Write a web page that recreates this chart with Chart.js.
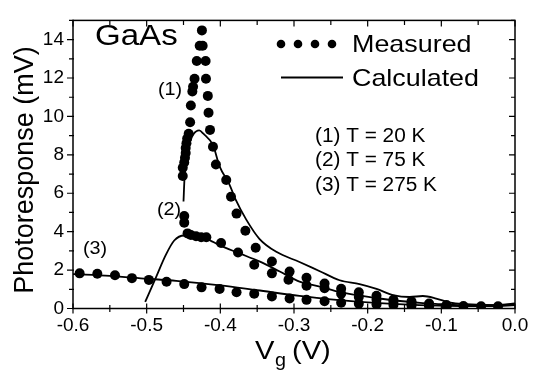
<!DOCTYPE html>
<html>
<head>
<meta charset="utf-8">
<script src="https://cdn.jsdelivr.net/npm/chart.js@4"></script>
<style>
  html, body { margin: 0; padding: 0; background: #fff; }
  #wrap { width: 538px; height: 370px; }
</style>
</head>
<body>
<div id="wrap"><canvas id="c" width="538" height="370"></canvas></div>
<script>
// measured points, [Vg (V), photoresponse (mV)]
const measured20K = [
  [-0.451, 6.9], [-0.451, 7.33], [-0.449, 7.6], [-0.448, 7.85], [-0.447, 8.1], [-0.447, 8.35],
  [-0.446, 8.6], [-0.445, 8.85], [-0.443, 9.1], [-0.441, 9.7], [-0.440, 10.57], [-0.438, 11.3],
  [-0.437, 11.55], [-0.435, 11.96], [-0.432, 12.89], [-0.428, 13.68], [-0.425, 14.48],
  [-0.424, 13.68], [-0.420, 12.89], [-0.4195, 11.96], [-0.417, 11.07], [-0.416, 10.19],
  [-0.414, 9.3], [-0.410, 8.42], [-0.406, 7.5], [-0.392, 6.69], [-0.3855, 5.82], [-0.378, 4.94],
  [-0.366, 4.05], [-0.352, 3.16], [-0.330, 2.45], [-0.306, 1.92], [-0.283, 1.6], [-0.2585, 1.3],
  [-0.236, 1.03], [-0.212, 0.84], [-0.188, 0.66], [-0.165, 0.46], [-0.1405, 0.38], [-0.1166, 0.26],
  [-0.093, 0.18], [-0.070, 0.13], [-0.046, 0.12], [-0.023, 0.12]
];
const measured75K = [
  [-0.449, 4.47], [-0.449, 4.81], [-0.4445, 3.91], [-0.440, 3.83], [-0.433, 3.76], [-0.426, 3.71],
  [-0.419, 3.71], [-0.399, 3.41], [-0.376, 2.92], [-0.354, 2.28], [-0.330, 1.83], [-0.3075, 1.5],
  [-0.283, 1.19], [-0.2585, 1.05], [-0.236, 0.77], [-0.212, 0.6], [-0.188, 0.46], [-0.165, 0.34],
  [-0.1405, 0.26], [-0.1166, 0.18], [-0.093, 0.13]
];
const measured275K = [
  [-0.591, 1.83], [-0.567, 1.81], [-0.543, 1.73], [-0.520, 1.58], [-0.497, 1.49], [-0.473, 1.39],
  [-0.449, 1.27], [-0.4255, 1.1], [-0.401, 1.02], [-0.378, 0.85], [-0.354, 0.77], [-0.330, 0.63],
  [-0.306, 0.52], [-0.283, 0.45], [-0.2585, 0.38], [-0.236, 0.3], [-0.212, 0.25], [-0.188, 0.21],
  [-0.165, 0.18], [-0.1405, 0.14], [-0.1166, 0.12], [-0.093, 0.1]
];

// calculated curves
const calc20K = [
  [-0.450, 5.57], [-0.4486, 6.8], [-0.446, 7.8], [-0.442, 8.6], [-0.437, 9.05], [-0.4286, 9.27],
  [-0.423, 9.1], [-0.410, 8.5], [-0.401, 7.4], [-0.388, 6.49], [-0.379, 5.65], [-0.365, 4.64],
  [-0.347, 3.63], [-0.324, 2.95], [-0.2925, 2.42], [-0.265, 1.94], [-0.238, 1.47], [-0.211, 1.27],
  [-0.188, 1.02], [-0.1655, 0.7], [-0.143, 0.6], [-0.125, 0.65], [-0.107, 0.52], [-0.088, 0.3],
  [-0.066, 0.23], [-0.025, 0.18], [0, 0.26]
];
const calc75K = [
  [-0.502, 0.34], [-0.4875, 1.61], [-0.474, 2.79], [-0.4626, 3.54], [-0.449, 3.8], [-0.4377, 3.71],
  [-0.419, 3.63], [-0.401, 3.29], [-0.374, 2.87], [-0.347, 2.45], [-0.320, 1.94], [-0.2925, 1.4],
  [-0.265, 1.14], [-0.238, 0.85], [-0.211, 0.68], [-0.184, 0.52], [-0.156, 0.39], [-0.129, 0.29],
  [-0.102, 0.23], [-0.075, 0.18], [-0.040, 0.17], [0, 0.23]
];
const calc275K = [
  [-0.6, 1.79], [-0.55, 1.7], [-0.5, 1.55], [-0.46, 1.44], [-0.4, 1.2], [-0.35, 0.95],
  [-0.2925, 0.66], [-0.25, 0.48], [-0.184, 0.28], [-0.13, 0.18], [-0.075, 0.13], [-0.03, 0.12], [0, 0.18]
];

const curveLabels = ['(1) T = 20 K', '(2) T = 75 K', '(3) T = 275 K'];
const xTickLabels = ['-0.6', '-0.5', '-0.4', '-0.3', '-0.2', '-0.1', '0.0'];
const yTickLabels = ['0', '2', '4', '6', '8', '10', '12', '14'];

const FONT = '"Liberation Sans", Arial, sans-serif';
const toPts = arr => arr.map(p => ({ x: p[0], y: p[1] }));

const dots = (d) => ({
  data: toPts(d), showLine: false, pointRadius: 5, pointHoverRadius: 5,
  pointBackgroundColor: '#000', pointBorderColor: '#000', pointBorderWidth: 0
});
const line = (d) => ({
  data: toPts(d), showLine: true, pointRadius: 0, borderColor: '#000',
  borderWidth: 1.8, cubicInterpolationMode: 'monotone', fill: false
});

function text(ctx, s, x, y, size, sx, align) {
  ctx.save();
  ctx.font = size + 'px ' + FONT;
  ctx.textBaseline = 'alphabetic';
  ctx.textAlign = align || 'left';
  ctx.translate(x, y);
  ctx.scale(sx, 1);
  ctx.fillText(s, 0, 0);
  ctx.restore();
}

const frameAndText = {
  id: 'frameAndText',
  afterDraw(chart) {
    const ctx = chart.ctx;
    const a = chart.chartArea;
    const xs = chart.scales.x, ys = chart.scales.y;
    ctx.save();
    ctx.strokeStyle = '#000';
    ctx.fillStyle = '#000';
    ctx.lineWidth = 1.5;
    ctx.strokeRect(a.left, a.top, a.right - a.left, a.bottom - a.top);

    ctx.lineWidth = 1.2;
    ctx.beginPath();
    for (let i = 0; i <= 12; i++) {
      const v = -0.6 + i * 0.05;
      const px = xs.getPixelForValue(v);
      const len = i % 2 === 0 ? 5 : 3.5;
      ctx.moveTo(px, a.bottom - len); ctx.lineTo(px, a.bottom + len);
      ctx.moveTo(px, a.top); ctx.lineTo(px, a.top + len + 1);
    }
    for (let v = 0; v <= 15; v++) {
      const py = ys.getPixelForValue(v);
      const len = v % 2 === 0 ? 6 : 4;
      ctx.moveTo(a.left - len, py); ctx.lineTo(a.left + 1, py);
      ctx.moveTo(a.right, py); ctx.lineTo(a.right - len, py);
    }
    ctx.stroke();

    // annotations
    text(ctx, 'GaAs', 95, 45, 29, 1.14);
    [281, 298, 315, 332].forEach(x => {
      ctx.beginPath(); ctx.arc(x, 44, 4.3, 0, Math.PI * 2); ctx.fill();
    });
    text(ctx, 'Measured', 352, 52, 24, 1.12);
    ctx.lineWidth = 1.8;
    ctx.beginPath(); ctx.moveTo(281, 77.5); ctx.lineTo(343, 77.5); ctx.stroke();
    text(ctx, 'Calculated', 352, 86, 24, 1.12);
    curveLabels.forEach((s, i) => text(ctx, s, 315, 141.5 + i * 24.5, 20, 1.04));
    text(ctx, '(1)', 158, 95, 18, 1.1);
    text(ctx, '(2)', 157, 215, 18, 1.1);
    text(ctx, '(3)', 83, 254, 18, 1.1);

    // axis titles
    ctx.save();
    ctx.translate(33, 170);
    ctx.rotate(-Math.PI / 2);
    ctx.font = '27px ' + FONT;
    ctx.textAlign = 'center';
    ctx.fillText('Photoresponse (mV)', 0, 0);
    ctx.restore();

    text(ctx, 'V', 255, 359, 26, 1.12);
    text(ctx, 'g', 275, 365.5, 18, 1.1);
    text(ctx, '(V)', 292, 359, 26, 1.12);
    ctx.restore();
  }
};

new Chart(document.getElementById('c'), {
  type: 'scatter',
  data: {
    datasets: [
      dots(measured20K), dots(measured75K), dots(measured275K),
      line(calc20K), line(calc75K), line(calc275K)
    ]
  },
  options: {
    responsive: false,
    animation: false,
    layout: { padding: { top: 9, right: 23, left: 0, bottom: 0 } },
    plugins: { legend: { display: false }, tooltip: { enabled: false } },
    scales: {
      x: {
        type: 'linear', min: -0.6, max: 0,
        afterFit: s => { s.height = 61.5; },
        afterBuildTicks: s => {
          s.ticks = xTickLabels.map(t => ({ value: parseFloat(t) }));
        },
        ticks: {
          color: '#000', font: { family: FONT, size: 19 }, padding: 6,
          maxRotation: 0, autoSkip: false,
          callback: (v) => xTickLabels.find(t => Math.abs(parseFloat(t) - v) < 1e-6) || ''
        },
        grid: { display: false, drawTicks: false },
        border: { display: false }
      },
      y: {
        type: 'linear', min: 0, max: 15,
        afterFit: s => { s.width = 73; },
        afterBuildTicks: s => {
          s.ticks = yTickLabels.map(t => ({ value: parseFloat(t) }));
        },
        ticks: {
          color: '#000', font: { family: FONT, size: 19 }, padding: 9,
          autoSkip: false,
          callback: (v) => yTickLabels.find(t => parseFloat(t) === v) || ''
        },
        grid: { display: false, drawTicks: false },
        border: { display: false }
      }
    }
  },
  plugins: [frameAndText]
});
</script>
</body>
</html>
